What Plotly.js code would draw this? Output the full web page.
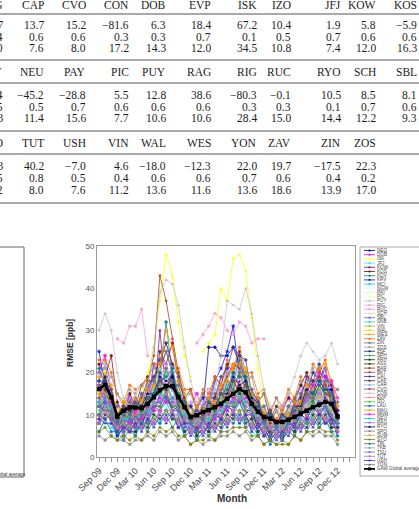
<!DOCTYPE html>
<html>
<head>
<meta charset="utf-8">
<script src="https://cdn.plot.ly/plotly-3.0.1.min.js"></script>
<style>
html,body{margin:0;padding:0;background:#fff;overflow:hidden}
#chart{width:419px;height:509px}
</style>
</head>
<body>
<div id="chart"></div>
<script>
// ---- Table of station statistics (bias, r, RMSE) ----
const tabHead1 = ['BRG','CAP','CVO','CON','DOB','EVP','ISK','IZO','JFJ','KOW','KOS'];
const tabBias1 = [12.7, 13.7, 15.2, -81.6, 6.3, 18.4, 67.2, 10.4, 1.9, 5.8, -5.9];
const tabR1    = [0.4, 0.6, 0.6, 0.3, 0.3, 0.7, 0.1, 0.5, 0.7, 0.6, 0.6];
const tabRmse1 = [9.0, 7.6, 8.0, 17.2, 14.3, 12.0, 34.5, 10.8, 7.4, 12.0, 16.3];

const tabHead2 = ['MNY','NEU','PAY','PIC','PUY','RAG','RIG','RUC','RYO','SCH','SBL'];
const tabBias2 = [-31.4, -45.2, -28.8, 5.5, 12.8, 38.6, -80.3, -0.1, 10.5, 8.5, 8.1];
const tabR2    = [0.5, 0.5, 0.7, 0.6, 0.6, 0.6, 0.3, 0.3, 0.1, 0.7, 0.6];
const tabRmse2 = [13.3, 11.4, 15.6, 7.7, 10.6, 10.6, 28.4, 15.0, 14.4, 12.2, 9.3];

const tabHead3 = ['SYO','TUT','USH','VIN','WAL','WES','YON','ZAV','ZIN','ZOS'];
const tabBias3 = [15.3, 40.2, -7.0, 4.6, -18.0, -12.3, 22.0, 19.7, -17.5, 22.3];
const tabR3    = [0.5, 0.8, 0.5, 0.4, 0.6, 0.6, 0.7, 0.6, 0.4, 0.2];
const tabRmse3 = [9.2, 8.0, 7.6, 11.2, 13.6, 11.6, 13.6, 18.6, 13.9, 17.0];

// ---- Monthly RMSE time series [ppb] ----
const months = ['2009-09-01','2009-10-01','2009-11-01','2009-12-01',
  '2010-01-01','2010-02-01','2010-03-01','2010-04-01','2010-05-01','2010-06-01',
  '2010-07-01','2010-08-01','2010-09-01','2010-10-01','2010-11-01','2010-12-01',
  '2011-01-01','2011-02-01','2011-03-01','2011-04-01','2011-05-01','2011-06-01',
  '2011-07-01','2011-08-01','2011-09-01','2011-10-01','2011-11-01','2011-12-01',
  '2012-01-01','2012-02-01','2012-03-01','2012-04-01','2012-05-01','2012-06-01',
  '2012-07-01','2012-08-01','2012-09-01','2012-10-01','2012-11-01','2012-12-01'];

const n = null;
const NEO = [18,22,15,9,7,10,13,9,16,19, 21,25,20,14,12,8,9,12,26,26, 24,24,26,22,19,13,10,9,7,8, 9,12,14,17,15,20,18,21,13,10];
const DOB = [20,24,16,10,12,15,11,13,17,14, 19,16,21,13,10,12,15,11,16,13, 18,14,20,17,15,12,13,9,11,8, 12,14,10,15,18,16,19,21,15,11];
const ISK = [n,n,n,n,n,n,11,15,20,26, 37,48,43,32,24,19,n,25,27,29, 40,37,47,48,44,33,21,12,n,n, n,n,n,n,n,n,n,n,n,n];
const JFJ = [6,9,7,5,8,6,5,9,7,10, 8,12,9,7,6,8,5,7,6,9, 10,8,11,8,9,6,5,7,4,6, 5,7,6,9,8,10,7,9,6,5];
const KOW = [13,17,11,6,9,12,10,8,14,13, 30,15,18,11,9,10,7,10,13,11, 12,16,14,18,13,11,8,10,6,9, 7,10,9,13,11,16,13,18,12,8];
const KOS = [22,19,24,13,10,15,12,17,19,16, 25,22,27,18,14,16,11,15,13,19, 17,22,20,25,18,16,13,15,9,12, 11,14,13,17,20,15,21,17,18,11];
const KOV = [10,15,12,7,9,11,8,13,11,18, 20,32,19,15,10,12,6,9,12,14, 13,20,18,23,17,14,9,11,6,8, 7,11,9,14,12,17,14,15,10,7];
const KRV = [25,17,13,10,8,14,10,15,13,22, 19,16,20,11,13,9,12,14,11,18, 21,25,31,19,20,13,14,8,11,7, 10,8,13,11,18,15,20,14,16,9];
const MCI = [9,13,10,5,8,10,7,12,9,14, 13,16,11,12,8,9,6,9,8,12, 10,14,12,15,11,10,7,8,5,7, 6,8,7,10,9,13,11,12,9,7];
const NGW = [12,14,9,8,11,9,12,10,13,11, 15,12,14,9,12,8,11,9,12,10, 13,11,15,12,14,9,11,8,10,7, 9,8,11,10,13,11,14,10,12,8];
const PAY = [17,22,16,14,12,16,13,15,18,16, 21,19,22,15,16,11,14,12,16,15, 18,16,21,19,20,14,15,11,13,10, 12,11,15,13,18,16,20,17,18,12];
const PIC = [9,8,10,6,7,5,8,9,7,10, 9,11,8,9,6,7,5,8,7,9, 8,10,9,11,8,9,6,7,5,6, 7,5,8,7,9,8,10,9,8,6];
const PUY = [12,16,10,8,7,10,9,12,10,14, 14,17,13,12,8,9,6,9,8,12, 10,15,14,17,12,11,8,9,6,7, 6,9,8,11,11,14,13,15,10,8];
const RIG = [n,n,n,28,27,31,31,35,24,n, n,n,n,n,n,n,27,29,31,34, 33,30,29,32,31,27,28,28,n,n, n,n,n,n,n,n,n,n,n,n];
const RUC = [18,17,15,12,10,14,12,15,14,19, 19,22,18,17,12,13,10,13,12,16, 15,20,19,21,16,16,12,12,9,11, 9,12,11,16,15,18,17,19,13,12];
const SCH = [13,17,12,10,8,12,9,13,11,16, 15,18,14,14,10,10,7,11,10,13, 12,16,15,17,13,13,9,10,7,9, 7,10,9,13,12,15,14,15,11,10];
const SBL = [12,11,9,8,6,9,7,10,8,12, 11,14,11,11,7,8,6,8,7,10, 9,12,11,13,10,10,7,8,5,7, 5,8,7,10,9,12,10,12,8,8];
const SNB = [12,16,11,9,7,11,10,13,12,16, 17,20,16,15,10,9,7,10,9,13, 12,17,16,20,15,14,9,9,6,8, 6,10,9,13,13,16,15,16,11,10];
const VIN = [14,11,12,8,9,11,10,8,14,11, 15,15,13,13,9,10,7,11,8,12, 11,15,12,16,13,12,9,10,6,9, 6,10,8,13,10,14,13,13,10,9];
const WAL = [15,20,13,11,10,13,10,14,13,17, 16,21,17,16,11,12,8,12,11,15, 13,18,16,20,15,15,10,11,8,11, 8,12,10,15,13,17,16,18,12,12];
const WES = [15,14,14,7,10,9,12,9,13,14, 16,16,14,14,10,9,7,11,9,13, 11,16,14,17,13,13,9,10,6,9, 6,10,9,13,11,15,14,15,11,10];
const ZAV = [23,23,20,15,13,17,16,17,18,22, 22,27,22,21,16,16,12,16,15,19, 17,23,21,26,20,20,15,16,11,14, 12,16,14,19,17,22,20,23,17,16];
const ZIN = [14,19,14,12,10,13,11,15,13,18, 16,21,17,17,12,12,9,12,10,15, 12,18,16,20,16,16,11,12,8,11, 8,12,10,15,13,17,15,18,13,13];
const ZOS = [20,21,19,15,12,16,15,17,15,21, 20,25,20,20,14,15,11,15,13,18, 15,21,19,24,18,19,13,15,10,14, 10,15,12,18,15,21,18,21,15,16];
const ZSF = [12,13,12,7,9,8,10,7,12,11, 15,14,12,12,8,8,6,9,7,11, 9,13,13,16,11,11,7,9,5,7, 5,9,7,11,10,13,12,13,9,8];
const SPH = [8,12,8,7,5,8,6,9,8,11, 11,13,10,10,6,7,5,7,6,9, 8,11,10,13,9,9,6,7,4,6, 4,7,6,9,8,11,9,11,7,7];
const ARH = [12,11,11,6,8,7,10,8,11,12, 12,15,11,12,8,8,6,9,7,10, 9,12,11,14,11,11,7,9,5,7, 5,8,7,10,9,12,10,12,9,8];
const ASS = [16,16,14,8,11,10,12,10,14,14, 18,16,19,12,12,8,10,9,13,11, 15,13,18,15,17,12,12,8,10,7, 9,8,12,11,15,13,17,15,14,10];
const BAR = [13,16,12,8,9,10,11,14,18,24, 43,37,28,20,14,9,9,10,11,13, 16,19,22,21,18,14,11,9,8,8, 8,9,11,13,16,18,19,17,13,10];
const BKT = [9,13,9,8,6,9,7,10,9,12, 12,15,12,11,8,8,6,8,7,10, 9,12,12,14,11,10,7,8,5,7, 5,8,7,10,9,12,11,12,8,8];
const CAI = [18,18,16,9,12,11,14,12,17,19, 23,27,22,19,13,12,10,12,14,14, 19,21,26,24,23,15,14,10,11,8, 10,9,13,14,19,18,22,19,17,11];
const CAP = [8,10,9,5,7,6,6,8,7,10, 9,11,9,9,6,7,5,7,6,8, 7,10,9,11,8,9,6,7,4,6, 4,7,6,8,7,10,8,10,7,7];
const CAR = [13,12,12,6,9,8,11,8,13,11, 15,13,16,10,11,7,9,7,11,9, 13,11,15,13,15,10,10,6,9,6, 8,7,11,9,13,11,15,11,13,8];
const CVO = [10,9,10,6,8,6,8,7,9,8, 11,9,11,7,9,6,8,6,8,7, 9,8,11,9,10,7,9,5,7,5, 7,6,9,7,10,8,11,8,9,6];
const CON = [30,34,30,20,14,12,12,13,17,26, 39,42,41,36,26,18,13,12,13,16, 24,37,36,35,40,34,24,16,12,11, 12,15,19,24,27,25,23,24,27,22];
const EVP = [13,17,12,10,9,11,10,12,11,15, 15,17,14,14,10,10,8,10,9,13, 11,15,14,17,13,13,9,10,7,9, 7,10,9,12,11,15,13,15,11,10];
const IZO = [11,14,10,9,8,10,9,11,10,13, 12,15,12,12,9,9,7,10,8,11, 10,13,12,14,11,12,8,9,6,8, 6,9,8,11,10,13,11,13,10,9];
const LAU = [6,9,6,6,4,7,5,8,6,9, 8,10,7,9,5,6,4,6,5,7, 6,9,8,10,7,8,5,6,3,5, 4,6,5,8,6,9,7,9,6,6];
const MAU = [19,19,17,10,13,12,14,13,16,17, 22,30,26,18,15,10,12,11,14,13, 17,18,22,22,21,15,14,10,11,9, 11,10,13,13,17,16,21,22,18,12];
const MNM = [17,13,13,8,9,8,11,9,12,11, 14,13,14,11,12,8,10,8,11,9, 12,11,14,13,14,11,11,8,10,7, 9,8,11,10,14,17,20,19,18,14];
const NEU = [13,14,12,7,9,10,9,11,11,14, 15,17,14,13,10,8,8,9,9,11, 11,14,13,16,13,12,9,8,7,8, 7,9,9,11,11,14,13,13,10,8];
const RAG = [12,14,11,8,8,9,9,10,10,13, 13,15,13,11,9,8,7,9,8,10, 10,12,13,14,12,11,9,8,7,7, 6,8,8,10,11,12,13,12,10,8];
const RYO = [16,19,14,10,12,11,13,12,15,15, 19,18,19,14,13,9,11,10,13,12, 15,15,19,17,18,14,13,9,11,8, 10,9,12,12,16,15,18,16,16,10];
const SPO = [5,4,5,4,4,3,4,4,5,4, 6,5,6,4,5,3,4,3,4,4, 5,5,6,5,6,4,5,3,4,3, 4,3,5,4,6,5,6,5,5,3];
const SUM = [10,11,9,7,8,7,8,7,9,9, 11,11,11,9,8,6,7,6,8,7, 9,9,11,11,11,8,8,6,7,5, 6,6,8,8,10,9,11,9,9,6];
const SYO = [6,7,5,4,5,4,5,4,6,5, 7,6,7,5,5,3,4,4,5,4, 6,6,7,7,7,5,5,3,4,3, 3,3,5,4,6,6,7,6,6,4];
const TRI = [21,17,14,8,10,9,12,11,14,15, 20,19,21,15,13,8,10,9,12,11, 15,16,20,19,19,13,12,8,10,7, 9,8,11,11,15,15,18,16,15,9];
const TKB = [16,15,14,7,11,9,12,10,13,13, 17,15,17,11,12,8,10,8,12,10, 14,13,17,14,16,11,11,7,9,7, 9,8,12,10,15,12,16,12,14,8];
const TSU = [10,13,9,8,6,9,7,10,9,12, 11,14,11,11,8,8,6,9,7,10, 9,12,11,13,10,10,7,8,5,7, 5,8,7,10,9,12,10,12,8,8];
const TUT = [8,11,8,7,7,6,9,7,9,8, 11,9,11,8,9,6,8,6,8,7, 10,8,11,9,10,7,8,6,7,5, 7,6,8,7,10,8,11,9,9,6];
const USH = [9,8,8,5,7,6,8,6,9,7, 10,8,10,7,8,5,7,5,8,6, 9,7,10,8,10,6,8,5,6,4, 6,5,8,6,9,7,10,8,9,5];
const YON = [17,17,15,9,12,10,13,11,14,14, 18,17,18,13,13,9,11,10,13,11, 15,14,18,16,17,13,13,9,11,8, 10,9,12,11,15,14,17,15,15,9];
const GAW = [16.1,17.1,14.2,9.6,11.0,11.8,11.7,11.6,12.6,14.2, 15.8,16.8,16.8,14.2,11.8,9.5,9.9,10.7,11.1,11.8, 12.6,13.8,15.0,16.1,15.3,12.6,10.7,9.5,9.1,8.3, 8.3,8.8,9.5,10.3,11.0,11.8,12.4,13.1,12.6,9.6];

const stationNames = ['NEO','DOB','ISK','JFJ','KOW','KOS','KOV','KRV','MCI','NGW','PAY','PIC','PUY','RIG','RUC','SCH','SBL','SNB','VIN','WAL','WES','ZAV','ZIN','ZOS','ZSF','SPH','ARH','ASS','BAR','BKT','CAI','CAP','CAR','CVO','CON','EVP','IZO','LAU','MAU','MNM','NEU','RAG','RYO','SPO','SUM','SYO','TRI','TKB','TSU','TUT','USH','YON'];
const stationSeries = [NEO,DOB,ISK,JFJ,KOW,KOS,KOV,KRV,MCI,NGW,PAY,PIC,PUY,RIG,RUC,SCH,SBL,SNB,VIN,WAL,WES,ZAV,ZIN,ZOS,ZSF,SPH,ARH,ASS,BAR,BKT,CAI,CAP,CAR,CVO,CON,EVP,IZO,LAU,MAU,MNM,NEU,RAG,RYO,SPO,SUM,SYO,TRI,TKB,TSU,TUT,USH,YON];
const averageName = 'GAW Global average';

// ---- Styling ----
const stationColors = ['#000080','#FF00FF','#FFFF00','#00FFFF','#800080','#800000','#008080','#0000FF','#00CCFF','#CCFFFF',
  '#CCFFCC','#FFFF99','#99CCFF','#FF99CC','#CC99FF','#FFCC99','#3366FF','#33CCCC','#99CC00','#FFCC00',
  '#FF9900','#FF6600','#666699','#969696','#003366','#339966','#003300','#333300','#993300','#993366',
  '#333399','#333333','#9999FF','#993366','#C0C0C0','#FF8080','#33CC33','#0066CC','#FF9900','#FF00FF',
  '#00CCCC','#9966CC','#000080','#808080','#CC9966','#808000','#008080','#999999','#6666CC','#CC66CC',
  '#3333CC','#666666'];
const symbolCycle = ['diamond','square','triangle-up','x','asterisk-open','circle','cross','star'];

// plot-area geometry in pixels
const W = 419, H = 509;
const L = 97, T = 246, PW = 258, PH = 211;
const px = x => (x - L) / PW;
const py = y => 1 - (y - T) / PH;

const traces = stationSeries.map((ys, i) => ({
  type: 'scatter', mode: 'lines+markers', x: months, y: ys, name: stationNames[i],
  line: {color: stationColors[i], width: 0.8},
  marker: {symbol: symbolCycle[i % symbolCycle.length], size: 2.6, color: stationColors[i],
           line: {color: stationColors[i], width: 0.6}},
  opacity: 0.9, connectgaps: false, showlegend: false, hoverinfo: 'skip'
}));
traces.push({
  type: 'scatter', mode: 'lines+markers', x: months, y: GAW, name: averageName,
  line: {color: '#000', width: 2.6}, marker: {symbol: 'square', size: 4.5, color: '#000'},
  showlegend: false, hoverinfo: 'skip'
});

const shapes = [];
const annotations = [];

// table
const fmt = v => (v < 0 ? '\u2212' : '') + Math.abs(v).toFixed(1);
const colRight = [4, 45, 87, 130, 167, 212, 258, 292, 342, 377, 418];
const tfont = {family: 'Liberation Serif', size: 11.5, color: '#1c1c1c'};
const blocks = [
  {head: tabHead1, rows: [tabBias1, tabR1, tabRmse1], yh: 5, yr: [25, 37, 48]},
  {head: tabHead2, rows: [tabBias2, tabR2, tabRmse2], yh: 72, yr: [95, 107, 118]},
  {head: tabHead3, rows: [tabBias3, tabR3, tabRmse3], yh: 143, yr: [166, 178, 190]}
];
blocks.forEach(b => {
  b.head.forEach((h, i) => annotations.push({xref:'paper', yref:'paper', x: px(colRight[i]), y: py(b.yh),
    xanchor:'right', yanchor:'middle', text: h, showarrow:false, font: tfont, borderpad: 0}));
  b.rows.forEach((row, r) => row.forEach((v, i) => annotations.push({xref:'paper', yref:'paper',
    x: px(colRight[i]), y: py(b.yr[r]), xanchor:'right', yanchor:'middle', text: fmt(v),
    showarrow:false, font: tfont, borderpad: 0})));
});
[14, 60, 83, 131, 154, 203].forEach(y => shapes.push({type:'line', xref:'paper', yref:'paper',
  x0: px(-5), x1: px(W + 5), y0: py(y), y1: py(y), line: {color:'#555', width:1.2}}));

// legend box of the neighbouring panel (left edge)
shapes.push({type:'rect', xref:'paper', yref:'paper', x0: px(-10), x1: px(24), y0: py(247), y1: py(477),
  line:{color:'#666', width:1}});
annotations.push({xref:'paper', yref:'paper', x: px(27), y: py(474.5), xanchor:'right', yanchor:'middle',
  text: averageName, showarrow:false, font:{family:'Liberation Sans', size:4.6, color:'#333'}, borderpad:0});

// legend of this panel
shapes.push({type:'rect', xref:'paper', yref:'paper', x0: px(360), x1: px(W + 10), y0: py(247), y1: py(476),
  line:{color:'#aaa', width:1}});
const legNames = stationNames.concat([averageName]);
const legColors = stationColors.concat(['#000']);
legNames.forEach((nm, i) => {
  const y = 250.5 + i * 4.2;
  const isAvg = i === legNames.length - 1;
  shapes.push({type:'line', xref:'paper', yref:'paper', x0: px(364), x1: px(375), y0: py(y), y1: py(y),
    line:{color: legColors[i], width: isAvg ? 1.8 : 0.8}});
  const s = isAvg ? 1.5 : 0.9;
  shapes.push({type:'rect', xref:'paper', yref:'paper', x0: px(369.5 - s), x1: px(369.5 + s),
    y0: py(y - s), y1: py(y + s), line:{width:0}, fillcolor: legColors[i]});
  annotations.push({xref:'paper', yref:'paper', x: px(376), y: py(y), xanchor:'left', yanchor:'middle',
    text: nm, showarrow:false, font:{family:'Liberation Sans', size:4.6, color:'#444'}, borderpad:0});
});

// axis titles
annotations.push({xref:'paper', yref:'paper', x: px(232), y: py(498), xanchor:'center', yanchor:'middle',
  text:'<b>Month</b>', showarrow:false, font:{family:'Liberation Sans', size:10, color:'#333'}});
annotations.push({xref:'paper', yref:'paper', x: px(70), y: py(343), xanchor:'center', yanchor:'middle',
  text:'<b>RMSE [ppb]</b>', textangle:-90, showarrow:false, font:{family:'Liberation Sans', size:8.5, color:'#333'}});

const layout = {
  width: W, height: H,
  margin: {l: L, r: W - L - PW, t: T, b: H - T - PH, pad: 0},
  paper_bgcolor: '#fff', plot_bgcolor: '#fff',
  showlegend: false,
  xaxis: {
    type: 'date', range: ['2009-08-22', '2013-02-26'],
    tick0: '2009-09-01', dtick: 'M3', tickformat: '%b %y', tickangle: -45,
    ticks: 'outside', ticklen: 4, tickcolor: '#999', tickwidth: 1,
    tickfont: {family: 'Liberation Sans', size: 9, color: '#444'},
    showline: true, linecolor: '#999', linewidth: 1, mirror: true,
    showgrid: false, zeroline: false,
    minor: {dtick: 'M1', tick0: '2009-09-01', ticks: 'outside', ticklen: 4, tickcolor: '#999', showgrid: false}
  },
  yaxis: {
    range: [0, 50], dtick: 10, ticks: '', showgrid: false, zeroline: false,
    showline: true, linecolor: '#999', linewidth: 1, mirror: true,
    tickfont: {family: 'Liberation Sans', size: 8, color: '#555'}
  },
  shapes: shapes,
  annotations: annotations
};

Plotly.newPlot('chart', traces, layout, {staticPlot: true, displayModeBar: false});
</script>
</body>
</html>
